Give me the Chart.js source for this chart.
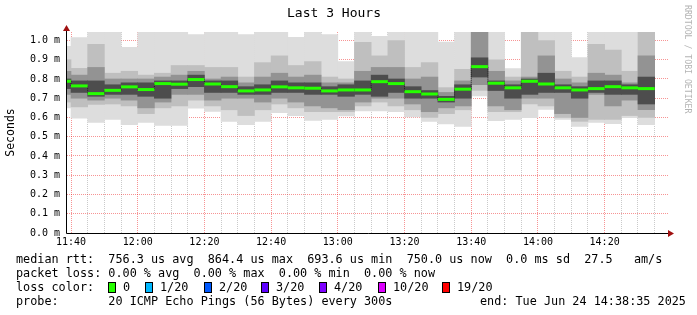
<!DOCTYPE html>
<html>
<head>
<meta charset="utf-8">
<script src="https://cdn.jsdelivr.net/npm/chart.js@4.4.1/dist/chart.umd.min.js"></script>
<style>
  body { margin: 0; background: #fff; }
  #wrap { position: relative; width: 697px; height: 315px; font-family: "DejaVu Sans Mono", monospace; color: #000; }
  #wrap canvas { position: absolute; left: 0; top: 0; }
  .leg { position: absolute; left: 16px; font-size: 11.8px; line-height: 14px; white-space: pre; }
  .box { position: absolute; top: 282px; width: 6px; height: 9px; border: 1px solid #000; }
  .lbl { position: absolute; top: 280px; font-size: 11.8px; line-height: 14px; white-space: pre; }
  #rrd { position: absolute; left: 683px; top: 5px; writing-mode: vertical-rl; font-size: 8.2px; line-height: 10px; color: #b4b4b4; white-space: pre; }
</style>
</head>
<body>
<div id="wrap">
  <canvas id="chart" width="697" height="315"></canvas>
  <div id="rrd">RRDTOOL / TOBI OETIKER</div>
  <div class="leg" style="top:252px">median rtt:  756.3 us avg  864.4 us max  693.6 us min  750.0 us now  0.0 ms sd  27.5   am/s</div>
  <div class="leg" style="top:266px">packet loss: 0.00 % avg  0.00 % max  0.00 % min  0.00 % now</div>
  <div class="leg" style="top:280px">loss color:</div>
  <div class="leg" style="top:294px">probe:       20 ICMP Echo Pings (56 Bytes) every 300s</div>
  <div class="leg" style="top:294px;left:480px">end: Tue Jun 24 14:38:35 2025</div>
  <div id="lossLegend"></div>
</div>
<script>
// 5-minute slots (start time); the first one is cut off by the left edge
const slotTimes = ['11:35','11:40','11:45','11:50','11:55','12:00','12:05','12:10','12:15',
  '12:20','12:25','12:30','12:35','12:40','12:45','12:50','12:55','13:00','13:05','13:10',
  '13:15','13:20','13:25','13:30','13:35','13:40','13:45','13:50','13:55','14:00','14:05',
  '14:10','14:15','14:20','14:25','14:30'];

// median rtt in ms
const median = [0.788,0.764,0.724,0.741,0.759,0.745,0.776,0.773,0.797,0.774,0.760,0.738,
  0.743,0.759,0.754,0.752,0.738,0.743,0.743,0.786,0.776,0.734,0.722,0.694,0.747,0.864,
  0.778,0.754,0.788,0.774,0.754,0.743,0.750,0.760,0.754,0.750];

// smoke: sorted ping levels, outer (light) to inner (dark)
const pingMax = [0.97,1.015,1.1,1.1,0.964,1.1,1.1,1.1,1.03,1.1,1.1,1.03,1.1,1.1,1.016,1.1,
  1.03,0.89,1.1,1.022,1.1,1.1,1.1,0.991,1.1,1.1,1.1,0.854,1.1,1.1,1.1,0.911,1.1,1.1,1.1,1.1];
const hi2 = [0.90,0.855,0.98,0.83,0.84,0.82,0.83,0.87,0.87,0.86,0.86,0.81,0.885,0.92,0.87,
  0.89,0.81,0.80,0.99,0.92,1.0,0.86,0.885,0.755,0.85,1.1,0.90,0.81,1.06,1.0,0.84,0.81,
  0.98,0.95,0.84,1.06];
const hi3 = [0.84,0.82,0.86,0.80,0.80,0.80,0.81,0.82,0.84,0.80,0.81,0.78,0.81,0.83,0.81,
  0.82,0.78,0.78,0.84,0.86,0.86,0.80,0.81,0.73,0.79,1.08,0.84,0.79,0.81,0.92,0.80,0.78,
  0.83,0.82,0.78,0.92];
const hi4 = [0.80,0.79,0.79,0.77,0.78,0.78,0.79,0.79,0.82,0.79,0.79,0.76,0.77,0.79,0.78,
  0.78,0.76,0.77,0.79,0.82,0.80,0.76,0.74,0.71,0.77,0.91,0.79,0.77,0.80,0.83,0.77,0.76,
  0.79,0.79,0.77,0.81];
const lo4 = [0.75,0.73,0.71,0.72,0.72,0.71,0.70,0.75,0.76,0.73,0.73,0.72,0.72,0.73,0.73,
  0.72,0.72,0.71,0.72,0.71,0.73,0.70,0.70,0.68,0.70,0.81,0.74,0.70,0.72,0.73,0.73,0.70,
  0.73,0.72,0.72,0.67];
const lo3 = [0.72,0.70,0.69,0.70,0.69,0.65,0.68,0.72,0.72,0.69,0.70,0.70,0.68,0.70,0.68,
  0.66,0.65,0.64,0.68,0.70,0.70,0.67,0.63,0.65,0.66,0.77,0.66,0.64,0.70,0.70,0.62,0.60,
  0.72,0.66,0.69,0.64];
const lo2 = [0.68,0.655,0.668,0.67,0.66,0.62,0.65,0.66,0.69,0.66,0.64,0.61,0.64,0.67,0.65,
  0.63,0.63,0.63,0.66,0.68,0.66,0.64,0.60,0.62,0.64,0.74,0.63,0.63,0.67,0.66,0.60,0.58,
  0.59,0.59,0.61,0.60];
const pingMin = [0.65,0.597,0.575,0.59,0.563,0.575,0.559,0.559,0.649,0.632,0.58,0.563,0.58,
  0.625,0.61,0.585,0.59,0.608,0.634,0.634,0.63,0.603,0.58,0.566,0.554,0.712,0.583,0.59,
  0.599,0.642,0.59,0.554,0.575,0.568,0.599,0.563];

const yTickValues = [0,0.1,0.2,0.3,0.4,0.5,0.6,0.7,0.8,0.9,1.0];
const lossLabels = ['0','1/20','2/20','3/20','4/20','10/20','19/20'];
const lossColors = ['#26ff00','#00b8ff','#0059ff','#5e00ff','#7e00ff','#dd00ff','#ff0000'];

// loss colour legend
const boxX = [108,145,204,261,319,378,442];
const lossDiv = document.getElementById('lossLegend');
lossLabels.forEach((l, i) => {
    lossDiv.insertAdjacentHTML('beforeend',
        `<div class="box" style="left:${boxX[i]}px;background:${lossColors[i]}"></div>` +
        `<div class="lbl" style="left:${boxX[i] + 15}px">${l}</div>`);
});

// minutes relative to 11:40, bars centred in their slot
const toMin = s => { const [h, m] = s.split(':').map(Number); return h * 60 + m - 700; };
const centers = slotTimes.map(t => toMin(t) + 2.5);
const fmtTime = v => { const t = 700 + v; return String(Math.floor(t / 60)).padStart(2, '0') + ':' + String(t % 60).padStart(2, '0'); };

const band = (lo, hi, color) => ({
    type: 'bar',
    data: centers.map((x, i) => ({ x: x, y: [lo[i], hi[i]] })),
    backgroundColor: color,
    borderWidth: 0,
    barPercentage: 1,
    categoryPercentage: 1,
    grouped: false
});

const axisArrows = {
    id: 'axisArrows',
    afterDraw(chart) {
        const { ctx, chartArea: a } = chart;
        ctx.save();
        ctx.strokeStyle = '#000';
        ctx.lineWidth = 1;
        ctx.beginPath();
        ctx.moveTo(a.left - 0.5, a.bottom + 0.5);
        ctx.lineTo(a.right + 3, a.bottom + 0.5);
        ctx.moveTo(a.left - 0.5, a.bottom + 0.5);
        ctx.lineTo(a.left - 0.5, a.top - 3);
        ctx.stroke();
        ctx.fillStyle = '#a01010';
        ctx.beginPath();
        ctx.moveTo(a.right, a.bottom - 3);
        ctx.lineTo(a.right + 6, a.bottom + 0.5);
        ctx.lineTo(a.right, a.bottom + 4);
        ctx.fill();
        ctx.beginPath();
        ctx.moveTo(a.left - 4, a.top - 1);
        ctx.lineTo(a.left - 0.5, a.top - 7);
        ctx.lineTo(a.left + 3, a.top - 1);
        ctx.fill();
        ctx.restore();
    }
};

const majorGrid = 'rgba(235,0,0,0.42)';
const minorGrid = 'rgba(128,128,128,0.42)';

Chart.defaults.font.family = "'DejaVu Sans Mono', monospace";
Chart.defaults.color = '#000';

new Chart(document.getElementById('chart'), {
    type: 'bar',
    data: {
        datasets: [
            {
                type: 'scatter',
                data: centers.map((x, i) => ({ x: x, y: median[i] })),
                pointStyle: 'line',
                pointRadius: ctx => (ctx.chart.scales.x.getPixelForValue(5) - ctx.chart.scales.x.getPixelForValue(0)) / 2,
                pointBorderWidth: 3,
                pointBorderColor: '#26ff00',
                showLine: false
            },
            {
                type: 'line',
                data: centers.map((x, i) => ({ x: x, y: median[i] })),
                stepped: 'middle',
                borderColor: '#1a1a1a',
                borderWidth: 1,
                borderDash: [1, 1],
                pointRadius: 0,
                fill: false
            },
            band(lo4, hi4, '#4d4d4d'),
            band(lo3, hi3, '#939393'),
            band(lo2, hi2, '#bfbfbf'),
            band(pingMin, pingMax, '#dddddd')
        ]
    },
    options: {
        responsive: false,
        devicePixelRatio: 1,
        animation: false,
        layout: { padding: { top: 0, right: 29, bottom: 0, left: 0 } },
        plugins: {
            legend: { display: false },
            tooltip: { enabled: false },
            title: {
                display: true,
                text: 'Last 3 Hours',
                color: '#000',
                font: { size: 13, weight: 'normal' },
                padding: { top: 6, bottom: 10.4 }
            }
        },
        scales: {
            x: {
                type: 'linear',
                min: -1.2,
                max: 179,
                offset: false,
                z: 1,
                afterBuildTicks: s => {
                    const t = [];
                    for (let v = 0; v <= 175; v += 5) t.push({ value: v });
                    s.ticks = t;
                },
                afterFit: s => { s.height = 82; },
                ticks: {
                    autoSkip: false,
                    maxRotation: 0,
                    padding: 3,
                    font: { size: 10 },
                    callback: v => (v % 20 === 0 ? fmtTime(v) : '')
                },
                grid: {
                    offset: false,
                    drawTicks: false,
                    color: c => (c.index % 4 === 0 ? majorGrid : minorGrid)
                },
                border: { display: false, dash: [1, 1] }
            },
            y: {
                min: 0,
                max: 1.044,
                z: 1,
                afterBuildTicks: s => { s.ticks = yTickValues.map(v => ({ value: v })); },
                afterFit: s => { s.width = 67; },
                ticks: {
                    padding: 7,
                    font: { size: 10 },
                    callback: v => v.toFixed(1) + ' m'
                },
                grid: { drawTicks: false, color: majorGrid },
                border: { display: false, dash: [1, 1] },
                title: {
                    display: true,
                    text: 'Seconds',
                    font: { size: 11.5 },
                    padding: { top: 4, bottom: 0 }
                }
            }
        }
    },
    plugins: [axisArrows]
});
</script>
</body>
</html>
